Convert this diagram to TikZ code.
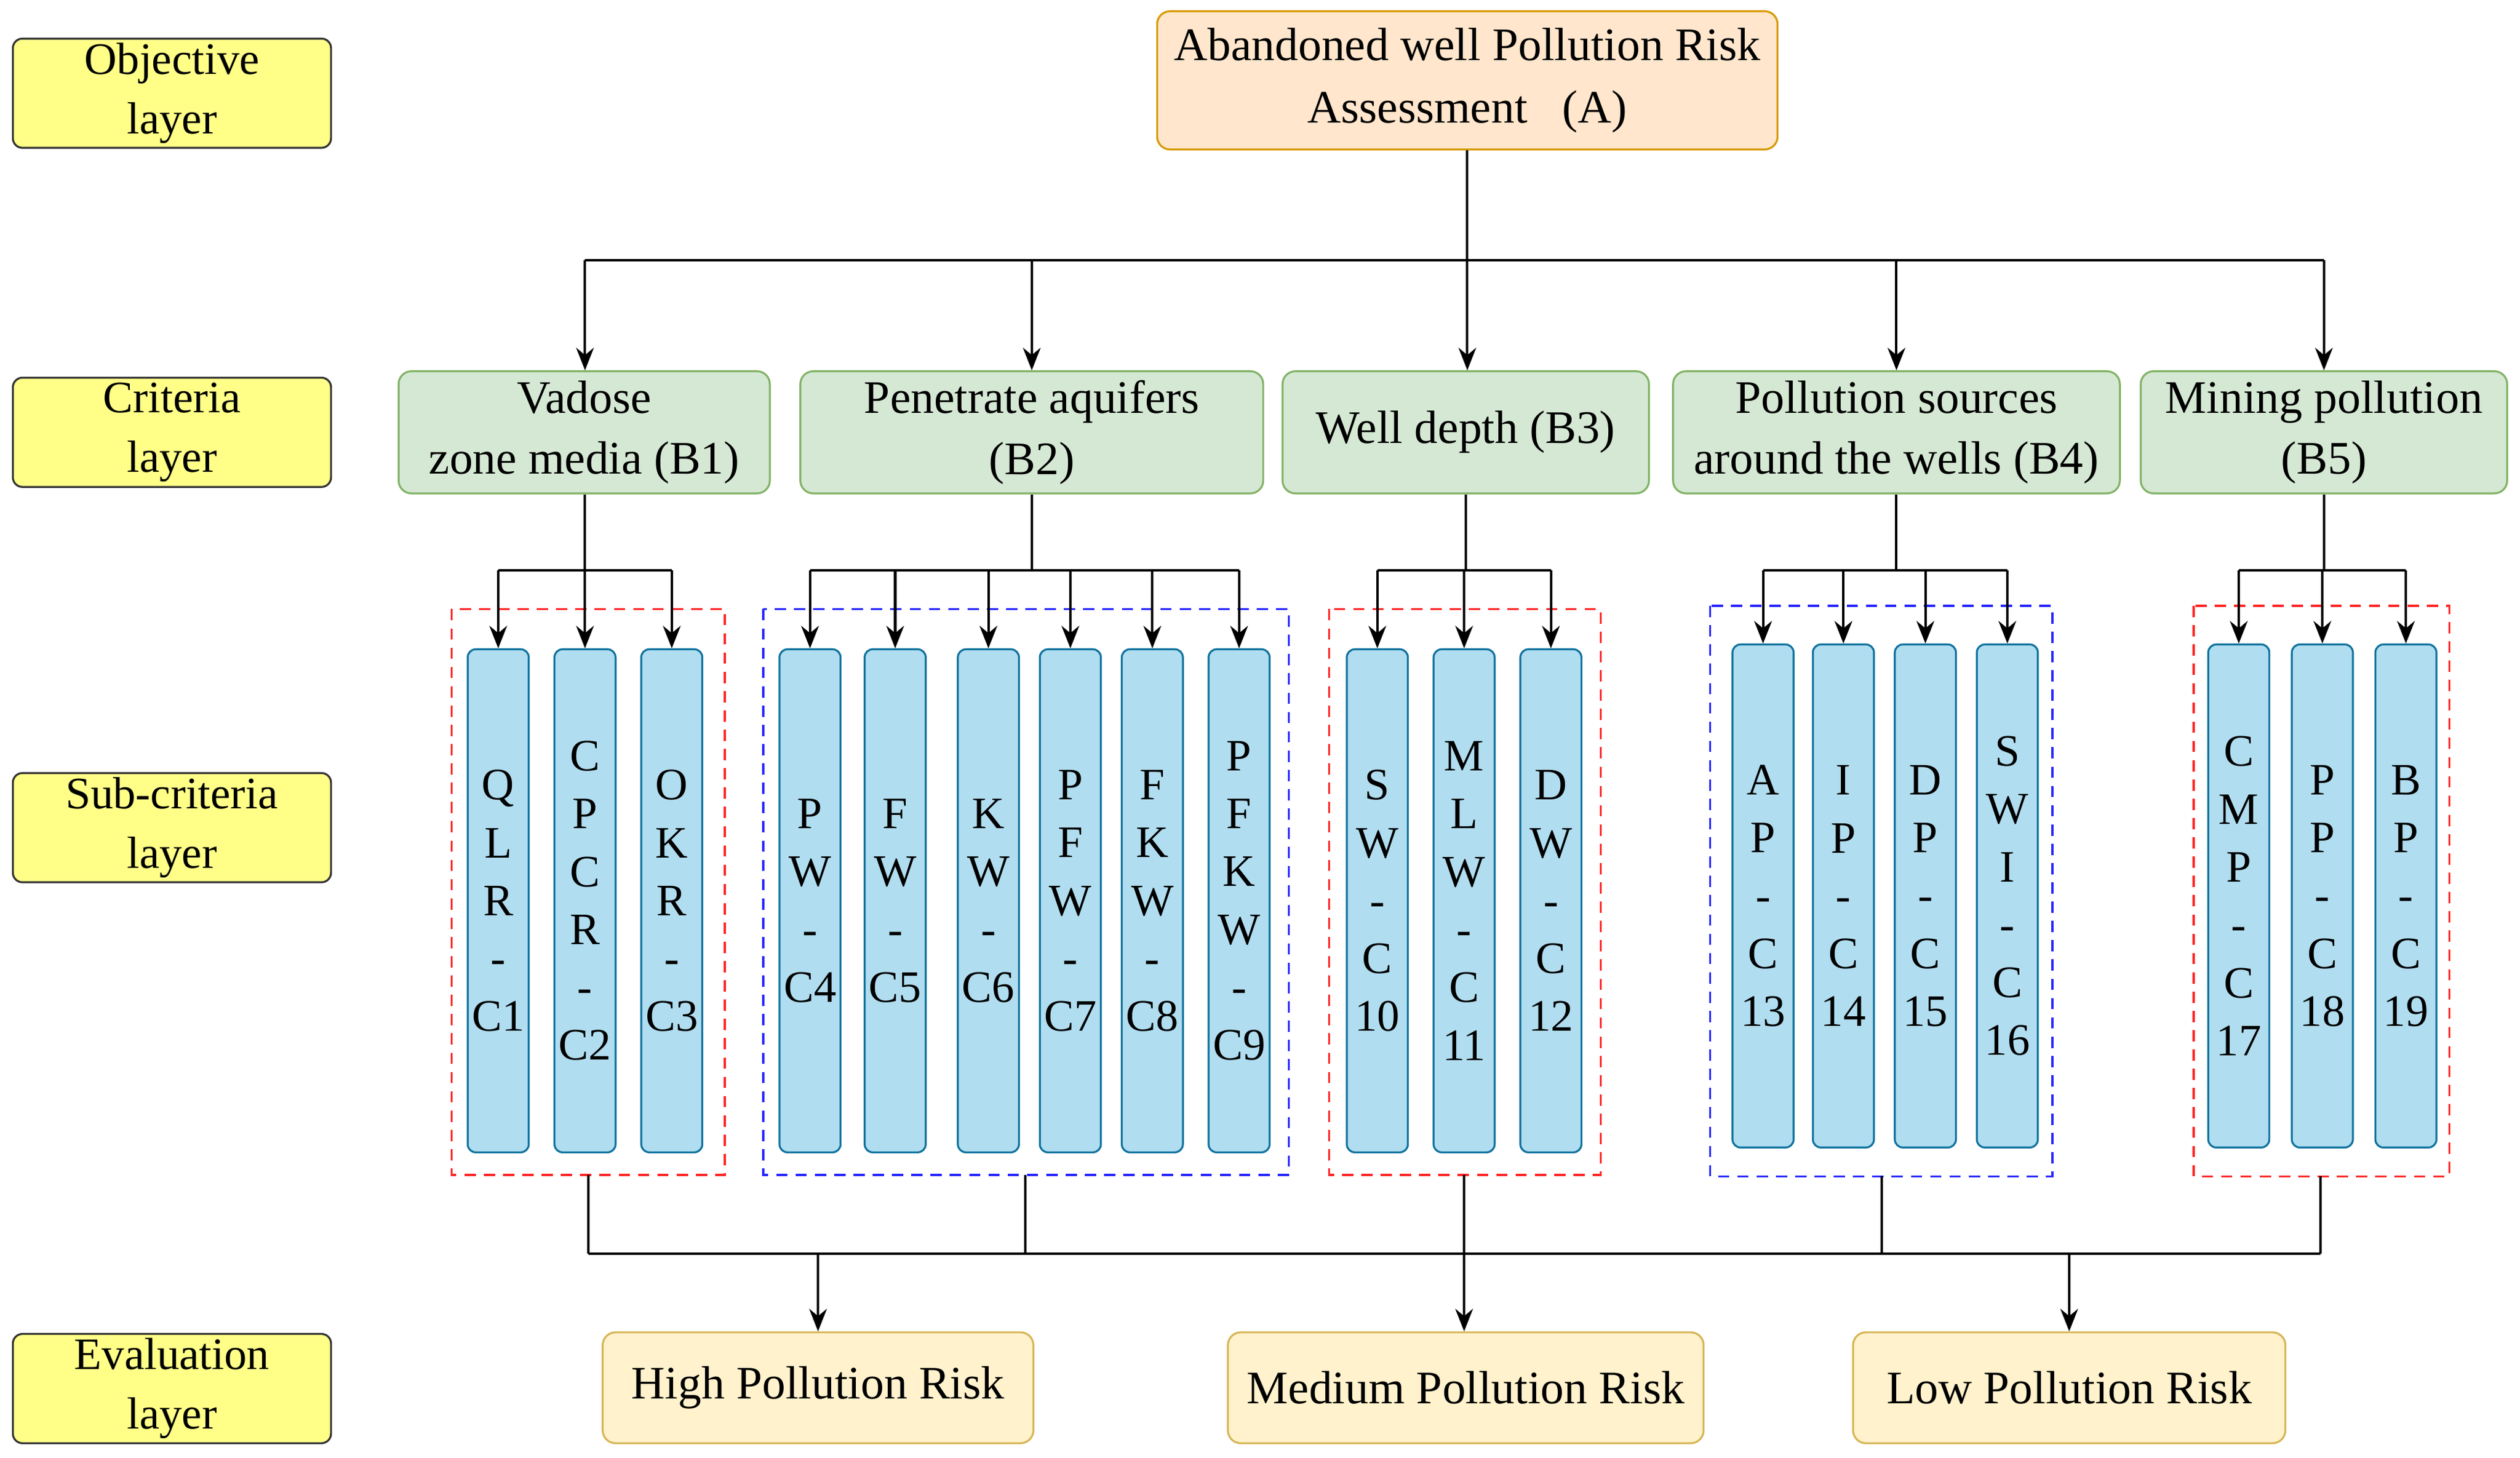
\documentclass[tikz,border=0pt]{standalone}
\usepackage{fontspec}
\setmainfont{Liberation Serif}
\usetikzlibrary{arrows.meta}
\definecolor{cfill}{HTML}{B1DDF0}\definecolor{cdraw}{HTML}{10739E}
\definecolor{bfill}{HTML}{D5E8D4}\definecolor{bdraw}{HTML}{82B366}
\definecolor{afill}{HTML}{FFE6CC}\definecolor{adraw}{HTML}{D79B00}
\definecolor{efill}{HTML}{FFF2CC}\definecolor{edraw}{HTML}{D6B656}
\definecolor{lfill}{HTML}{FFFF88}
\begin{document}
\begin{tikzpicture}[x=1pt,y=-1pt,
 lay/.style={draw=black!80,fill=lfill,rounded corners=6pt,line width=1.2pt,minimum width=198pt,minimum height=68pt,align=center,font=\fontsize{28}{37}\selectfont,inner sep=0pt},
 bb/.style={draw=bdraw,fill=bfill,rounded corners=8pt,line width=1.2pt,minimum height=76pt,align=center,font=\fontsize{29}{38}\selectfont,inner sep=0pt},
 cc/.style={draw=cdraw,fill=cfill,rounded corners=5pt,line width=1.2pt,minimum width=38pt,minimum height=313pt,align=center,font=\fontsize{28}{36}\selectfont,inner sep=0pt},
 ee/.style={draw=edraw,fill=efill,rounded corners=8pt,line width=1.2pt,minimum height=69pt,align=center,font=\fontsize{29}{37}\selectfont},
 rbox/.style={draw=red!85,dashed,line width=1.3pt,dash pattern=on 7pt off 5pt},
 bbox/.style={draw=blue!85,dashed,line width=1.3pt,dash pattern=on 7pt off 5pt},
 ar/.style={-{Stealth[length=14pt,width=11pt]},line width=1.5pt},
 ln/.style={line width=1.5pt}]
\useasboundingbox (0,0) rectangle (1568,907);
\fill[white] (0,0) rectangle (1568,907);
% layer labels
\node[lay] (L1) at (107,58) {Objective\\layer};
\node[lay] (L2) at (107,269) {Criteria\\layer};
\node[lay] (L3) at (107,515) {Sub-criteria\\layer};
\node[lay] (L4) at (107,864) {Evaluation\\layer};
% A
\node[draw=adraw,fill=afill,rounded corners=8pt,line width=1.2pt,minimum width=386pt,minimum height=86pt,align=center,inner sep=0pt,font=\fontsize{29}{39}\selectfont] (A) at (913,50) {Abandoned well Pollution Risk\\Assessment\ \ \ (A)};
% B
\node[bb,minimum width=231pt] (B1) at (363.5,269) {Vadose\\zone media (B1)};
\node[bb,minimum width=288pt] (B2) at (642,269) {Penetrate aquifers\\(B2)};
\node[bb,minimum width=228pt] (B3) at (912,269) {Well depth (B3)};
\node[bb,minimum width=278pt] (B4) at (1180,269) {Pollution sources\\around the wells (B4)};
\node[bb,minimum width=228pt] (B5) at (1446,269) {Mining pollution\\(B5)};
\coordinate (h0) at (913,162);
\draw[ln] (A.south) -- (h0);
\draw[ln] (364,162) -- (1446,162);
\foreach \x/\b in {364/B1,642/B2,1180/B4,1446/B5}{\draw[ar] (\x,162) -- (\b.north -| \x,0);}
\draw[ar] (h0) -- (B3.north -| h0);
% groups
\draw[rbox] (281,379) rectangle (451,731); \coordinate (g1) at (366,731);
\draw[bbox] (475,379) rectangle (802,731); \coordinate (g2) at (638,731);
\draw[rbox] (827,379) rectangle (996,731); \coordinate (g3) at (911,731);
\draw[bbox] (1064,377) rectangle (1277,732); \coordinate (g4) at (1171,732);
\draw[rbox] (1365,377) rectangle (1524,732); \coordinate (g5) at (1444,732);
% C nodes
\node[cc] (C1) at (310,560.5) {Q\\L\\R\\-\\C1};
\node[cc] (C2) at (364,560.5) {C\\P\\C\\R\\-\\C2};
\node[cc] (C3) at (418,560.5) {O\\K\\R\\-\\C3};
\node[cc] (C4) at (504,560.5) {P\\W\\-\\C4};
\node[cc] (C5) at (557,560.5) {F\\W\\-\\C5};
\node[cc] (C6) at (615,560.5) {K\\W\\-\\C6};
\node[cc] (C7) at (666,560.5) {P\\F\\W\\-\\C7};
\node[cc] (C8) at (717,560.5) {F\\K\\W\\-\\C8};
\node[cc] (C9) at (771,560.5) {P\\F\\K\\W\\-\\C9};
\node[cc] (C10) at (857,560.5) {S\\W\\-\\C\\10};
\node[cc] (C11) at (911,560.5) {M\\L\\W\\-\\C\\11};
\node[cc] (C12) at (965,560.5) {D\\W\\-\\C\\12};
\node[cc] (C13) at (1097,557.5) {A\\P\\-\\C\\13};
\node[cc] (C14) at (1147,557.5) {I\\P\\-\\C\\14};
\node[cc] (C15) at (1198,557.5) {D\\P\\-\\C\\15};
\node[cc] (C16) at (1249,557.5) {S\\W\\I\\-\\C\\16};
\node[cc] (C17) at (1393,557.5) {C\\M\\P\\-\\C\\17};
\node[cc] (C18) at (1445,557.5) {P\\P\\-\\C\\18};
\node[cc] (C19) at (1497,557.5) {B\\P\\-\\C\\19};
% B -> C
\foreach \b/\xm/\l/\r/\cs in {B1/364/310/418/{C1,C2,C3},B2/642/504/771/{C4,C5,C6,C7,C8,C9},B3/912/857/965/{C10,C11,C12},B4/1180/1097/1249/{C13,C14,C15,C16},B5/1446/1393/1497/{C17,C18,C19}}{
 \draw[ln] (\b.south -| \xm,0) -- (\xm,355);
 \draw[ln] (\l,355) -- (\r,355);
 \foreach \c in \cs {\draw[ar] (\c.north |- 0,355) -- (\c.north);}
}
% E
\node[ee,minimum width=268pt] (E1) at (509,863.5) {High Pollution Risk};
\node[ee,minimum width=296pt] (E2) at (912,863.5) {Medium Pollution Risk};
\node[ee,minimum width=269pt] (E3) at (1287.5,863.5) {Low Pollution Risk};
\foreach \g in {g1,g2,g3,g4,g5}{\draw[ln] (\g) -- (\g |- 0,780);}
\draw[ln] (366,780) -- (1444,780);
\draw[ar] (E1.north |- 0,780) -- (E1.north);
\draw[ar] (g3 |- 0,780) -- (g3 |- E2.north);
\draw[ar] (E3.north |- 0,780) -- (E3.north);
\end{tikzpicture}
\end{document}
